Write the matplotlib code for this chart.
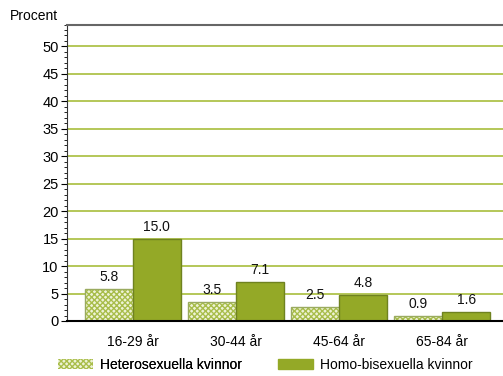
import matplotlib.pyplot as plt
import numpy as np
from matplotlib.patches import Patch
from matplotlib.ticker import MultipleLocator

plt.rcParams['font.family'] = ['Liberation Sans', 'DejaVu Sans']
plt.rcParams['hatch.linewidth'] = 1.0

groups = ['16-29 år', '30-44 år', '45-64 år', '65-84 år']
hetero = [5.8, 3.5, 2.5, 0.9]
homo = [15.0, 7.1, 4.8, 1.6]
series_names = ['Heterosexuella kvinnor', 'Homo-bisexuella kvinnor']
yticks = list(range(0, 55, 5))

fig = plt.figure(figsize=(5.03, 3.76), dpi=100)
ax = fig.add_axes([0.1332, 0.1463, 0.8668, 0.7885])

x = np.arange(len(groups))
w = 0.465
b1 = ax.bar(x - w / 2, hetero, w, facecolor='#eef3d6', edgecolor='#9aab60',
            hatch='xxxxxx', linewidth=1.0, zorder=3)
for r in b1:
    r._hatch_color = (0.66, 0.74, 0.29, 1.0)
b2 = ax.bar(x + w / 2, homo, w, facecolor='#94a927', edgecolor='#6f8220',
            linewidth=1.0, zorder=3)

for bars, vals in ((b1, hetero), (b2, homo)):
    for r, v in zip(bars, vals):
        ax.text(r.get_x() + r.get_width() / 2, v + 0.9, '%.1f' % v,
                ha='center', va='bottom', fontsize=10, color='#111111')

ax.set_xlim(-0.64, 3.59)
ax.set_ylim(0, 54)
ax.set_yticks(yticks)
ax.yaxis.set_minor_locator(MultipleLocator(1))
ax.set_xticks(x)
ax.set_xticklabels(groups, fontsize=10)
ax.tick_params(axis='x', length=0, pad=10)
ax.tick_params(axis='y', which='major', length=4, direction='out', labelsize=10.5, pad=2)
ax.tick_params(axis='y', which='minor', length=2, direction='out')
for t in yticks[1:]:
    ax.axhline(t, color='#a8bd3c', linewidth=1.2, zorder=1)

ax.spines['right'].set_visible(False)
ax.spines['top'].set_color('#666666')
ax.spines['top'].set_linewidth(1.5)
ax.spines['left'].set_color('#333333')
ax.spines['bottom'].set_color('black')
ax.spines['bottom'].set_linewidth(1.5)
ax.spines['bottom'].set_zorder(4)

fig.text(0.02, 0.94, 'Procent', fontsize=10, va='bottom', ha='left')

h1 = Patch(facecolor='#eef3d6', edgecolor='#a9bd4a', linewidth=0, hatch='xxxxxx')
h2 = Patch(facecolor='#94a927', edgecolor='#94a927')
kw = dict(loc='center left', frameon=False, fontsize=10, handlelength=2.5,
          handleheight=0.72, handletextpad=0.5, borderaxespad=0, borderpad=0)
leg1 = fig.legend([h1], series_names[:1], bbox_to_anchor=(0.115, 0.03), **kw)
fig.legend([h2], series_names[1:], bbox_to_anchor=(0.553, 0.03), **kw)
fig.add_artist(leg1)

fig.savefig('out.png', dpi=100)
